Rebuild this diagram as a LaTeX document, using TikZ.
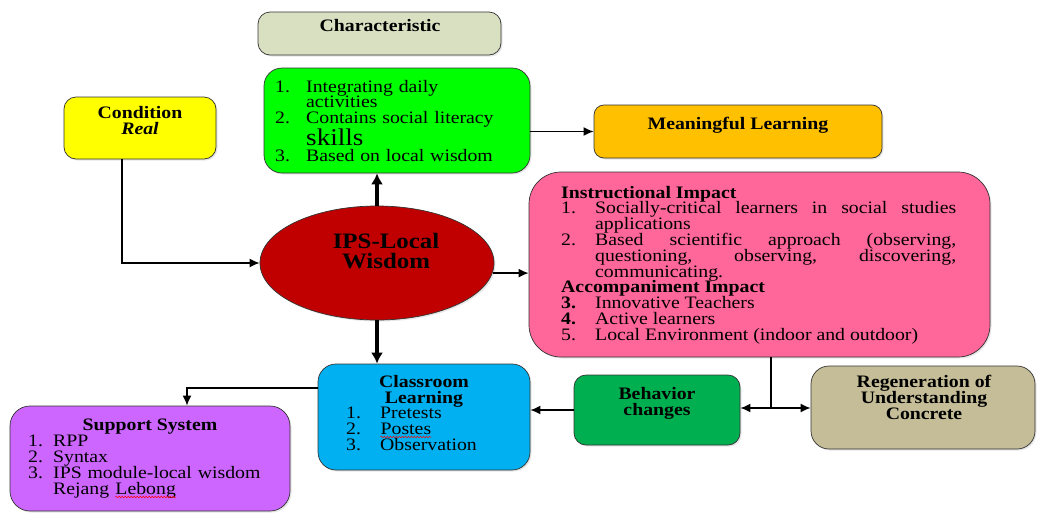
\documentclass[tikz,border=0pt]{standalone}
\usepackage{fontspec}
\setmainfont{Liberation Serif}[FakeStretch=1.13]
\usepackage{tikz}
\usetikzlibrary{shapes.geometric,arrows.meta,decorations.pathmorphing,shadows}
\lineskiplimit=-30pt
\normallineskiplimit=-30pt
\setlength{\parskip}{0pt}

\definecolor{charsage}{HTML}{D9DFC1}
\definecolor{brightgreen}{HTML}{00FF00}
\definecolor{condyellow}{HTML}{FFFF00}
\definecolor{meanorange}{HTML}{FFC000}
\definecolor{ipsred}{HTML}{C00000}
\definecolor{imppink}{HTML}{FF6699}
\definecolor{clsblue}{HTML}{00B0F0}
\definecolor{supviolet}{HTML}{CC66FF}
\definecolor{behgreen}{HTML}{00B050}
\definecolor{regentan}{HTML}{C4BD97}

\tikzset{
	panel/.style={draw=black!80, line width=0.7pt, rounded corners=14pt, inner sep=0pt,
		drop shadow={opacity=0.2, shadow xshift=1.5pt, shadow yshift=-1.5pt}},
	body/.style={inner sep=0pt, font=\fontsize{17.5}{16}\selectfont},
	head/.style={inner sep=0pt, align=center, font=\fontsize{17.5}{16}\selectfont\bfseries},
	link/.style={line width=1.6pt, -{Latex[length=10pt,width=9pt]}},
	biglink/.style={line width=3.5pt, -{Latex[length=11pt,width=12pt]}},
	spellwave/.style={red, line width=0.5pt, decorate, decoration={snake, amplitude=0.8pt, segment length=3pt}},
}

% numbered line with hanging text
\newcommand{\itm}[3]{\noindent\makebox[#1][l]{#2}#3\hangindent=#1\hangafter=1\par}
% red spell-check wave under a word
\newcommand{\spell}[1]{\tikz[baseline=(sw.base)]{\node[inner sep=0pt] (sw) {#1}; \draw[spellwave] ([yshift=-3pt]sw.base west) -- ([yshift=-3pt]sw.base east);}}

\begin{document}
\begin{tikzpicture}[x=1pt,y=-1pt]
	\useasboundingbox (0,0) rectangle (1037,512);
	% boxes
	\node[panel, fill=charsage, rounded corners=12pt, minimum width=243pt, minimum height=43pt] (charbox) at (379.5,33.5) {};
	\node[panel, fill=brightgreen, rounded corners=18pt, minimum width=266pt, minimum height=105pt] (grn) at (397,120.5) {};
	\node[panel, fill=condyellow, rounded corners=12pt, minimum width=152pt, minimum height=62pt] (cond) at (140,128) {};
	\node[panel, fill=meanorange, rounded corners=10pt, minimum width=288pt, minimum height=53pt] (mean) at (738,131.5) {};
	\node[ellipse, draw=black!80, line width=0.7pt, fill=ipsred, inner sep=0pt, minimum width=234pt, minimum height=114pt,
		drop shadow={opacity=0.2, shadow xshift=1.5pt, shadow yshift=-1.5pt}] (ips) at (377,263) {};
	\node[panel, fill=imppink, rounded corners=32pt, minimum width=461pt, minimum height=185pt] (imp) at (759.5,264.5) {};
	\node[panel, fill=clsblue, rounded corners=18pt, minimum width=212pt, minimum height=106pt] (cls) at (424,417) {};
	\node[panel, fill=supviolet, rounded corners=20pt, minimum width=280pt, minimum height=105pt] (sup) at (150,458.5) {};
	\node[panel, fill=behgreen, rounded corners=12pt, minimum width=166pt, minimum height=70pt] (beh) at (657,410) {};
	\node[panel, fill=regentan, rounded corners=18pt, minimum width=224pt, minimum height=83pt] (regen) at (923,407.5) {};

	% texts
	\node[head, anchor=base] (chartxt) at (380,31) {Characteristic};
	\node[body, anchor=base west, text width=252pt, align=left, font=\fontsize{17.5}{15.5}\selectfont] (grntxt) at (275,92) {%
		\itm{31pt}{1.}{Integrating daily\newline activities}%
		\itm{31pt}{2.}{Contains social literacy\vadjust{\vskip7pt}\newline{\fontsize{24}{15}\selectfont skills}}%
		\itm{31pt}{3.}{Based on local wisdom}};
	\node[head, anchor=base] (condtxt) at (140,134) {Condition\\\textit{Real}};
	\node[head, anchor=base] (meantxt) at (738,129) {Meaningful Learning};
	\node[head, anchor=base, font=\fontsize{22}{20}\selectfont\bfseries] (ipstxt) at (386,268) {IPS-Local\\Wisdom};
	\node[body, anchor=base west, text width=395pt, align=justify, font=\fontsize{17.5}{15.8}\selectfont] (imptxt) at (561,198) {%
		\lineskiplimit=-30pt\noindent\textbf{Instructional Impact}\par
		\itm{34pt}{1.}{Socially-critical learners in social studies\linebreak applications}%
		\itm{34pt}{2.}{Based scientific approach (observing,\linebreak questioning, observing, discovering,\linebreak communicating.}%
		\noindent\textbf{Accompaniment Impact}\par
		\itm{34pt}{\textbf{3.}}{Innovative Teachers}%
		\itm{34pt}{\textbf{4.}}{Active learners}%
		\itm{34pt}{5.}{Local Environment (indoor and outdoor)}};
	\node[head, anchor=base] (clstitle) at (424,403) {Classroom\\Learning};
	\node[body, anchor=base west, text width=170pt, align=left] (clslist) at (346,418) {%
		\itm{34pt}{1.}{Pretests}%
		\itm{34pt}{2.}{\spell{Postes}}%
		\itm{34pt}{3.}{Observation}};
	\node[head, anchor=base] (suptitle) at (150,430) {Support System};
	\node[body, anchor=base west, text width=250pt, align=left] (suplist) at (28,446) {%
		\itm{25pt}{1.}{RPP}%
		\itm{25pt}{2.}{Syntax}%
		\itm{25pt}{3.}{IPS module-local wisdom\newline Rejang \spell{Lebong}}};
	\node[head, anchor=base] (behtxt) at (657,415) {Behavior\\changes};
	\node[head, anchor=base] (regentxt) at (924,419) {Regeneration of\\Understanding\\Concrete};

	% connectors
	\draw[link] ([xshift=-18pt]cond.south) |- (ips.west);
	\draw[biglink] (ips.north) -- (ips.north |- grn.south);
	\draw[link] (grn.east |- mean.west) -- (mean.west);
	\draw[link] (ips.-5) -- (ips.-5 -| imp.west);
	\draw[biglink] (ips.south) -- (ips.south |- cls.north);
	\draw[link] ([yshift=29pt]cls.west) -| ([xshift=37pt]sup.north);
	\coordinate (fork) at (771,408);
	\draw[line width=1.6pt] (imp.south -| fork) -- (fork);
	\draw[link] (fork) -- (fork -| beh.east);
	\draw[link] (fork) -- (fork -| regen.west);
	\draw[link] (beh.west) -- (beh.west -| cls.east);
\end{tikzpicture}
\end{document}
